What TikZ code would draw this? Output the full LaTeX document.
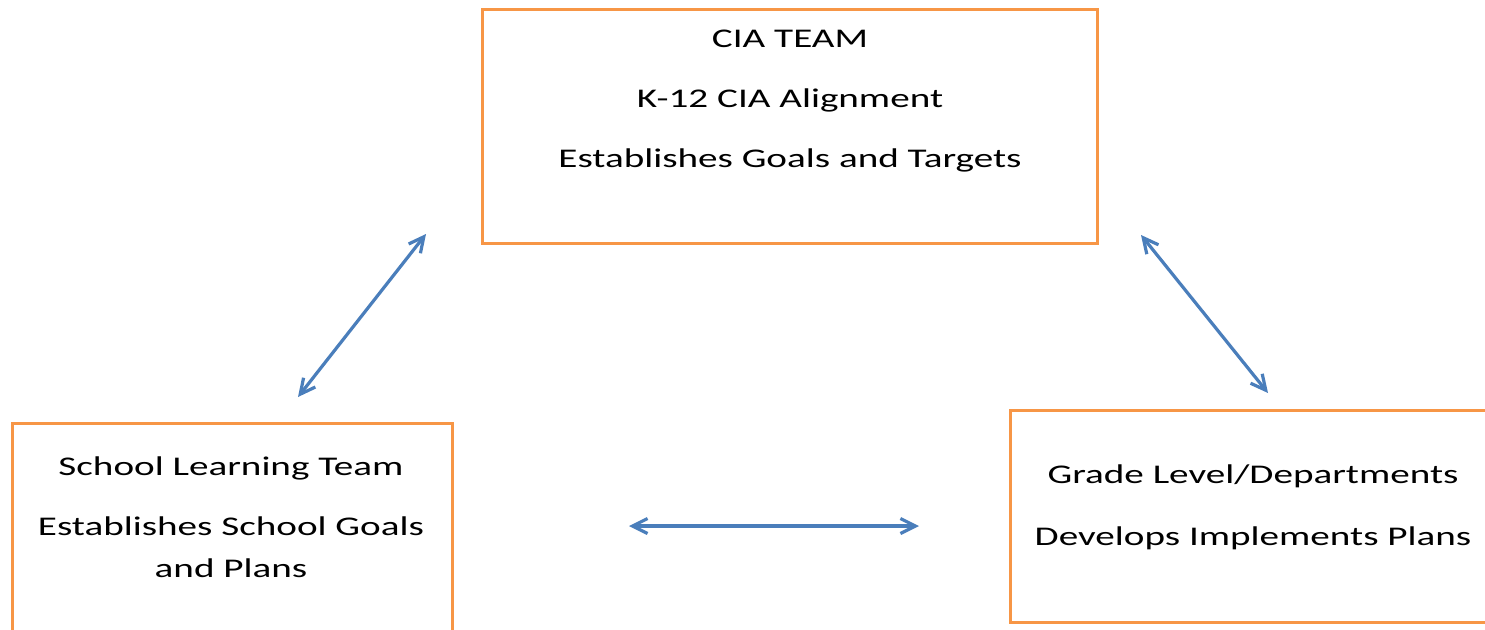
\documentclass[tikz,border=0pt]{standalone}
\usepackage{fontspec}
\setmainfont{Carlito}
\usetikzlibrary{arrows.meta}
\definecolor{boxorange}{RGB}{247,150,70}
\definecolor{linkblue}{RGB}{74,126,187}
% wide lettering used in the boxes
\newcommand{\widetext}[1]{\scalebox{1.45}[1]{#1}}
\begin{document}
\begin{tikzpicture}[x=1pt,y=-1pt,
  panel/.style={draw=boxorange, line width=3pt, inner sep=0pt, fill=white},
  label/.style={font=\fontsize{27}{32}\selectfont, anchor=base, inner sep=0pt},
  link/.style={draw=linkblue, line width=3.2pt,
    {Straight Barb[length=15pt,width=15pt]}-{Straight Barb[length=15pt,width=15pt]}}]
\useasboundingbox (0,0) rectangle (1485,629);
\clip (0,0) rectangle (1485,629);
\fill[white] (0,0) rectangle (1485,629);

% boxes
\node[panel, minimum width=615pt, minimum height=234pt] (cia) at (789.5,126) {};
\node[panel, minimum width=440pt, minimum height=236pt] (slt) at (232,541) {};
\node[panel, minimum width=486pt, minimum height=212pt] (gld) at (1253,516) {};

% box texts
\node[label] (ciaA) at (790,47) {\widetext{CIA TEAM}};
\node[label] (ciaB) at (790,107) {\widetext{K-12 CIA Alignment}};
\node[label] (ciaC) at (790,167) {\widetext{Establishes Goals and Targets}};

\node[label] (sltA) at (231,475) {\widetext{School Learning Team}};
\node[label] (sltB) at (231,535) {\widetext{Establishes School Goals}};
\node[label] (sltC) at (231,577) {\widetext{and Plans}};

\node[label] (gldA) at (1253,483) {\widetext{Grade Level/Departments}};
\node[label] (gldB) at (1253,545) {\widetext{Develops Implements Plans}};

% arrow end points
\coordinate (l1) at (298,397);
\coordinate (l2) at (426,234);
\coordinate (r1) at (1141,235);
\coordinate (r2) at (1268,393);
\coordinate (h1) at (629,526);
\coordinate (h2) at (919,526);

\draw[link] (l1) -- (l2);
\draw[link] (r1) -- (r2);
\draw[link] (h1) -- (h2);
\end{tikzpicture}
\end{document}
